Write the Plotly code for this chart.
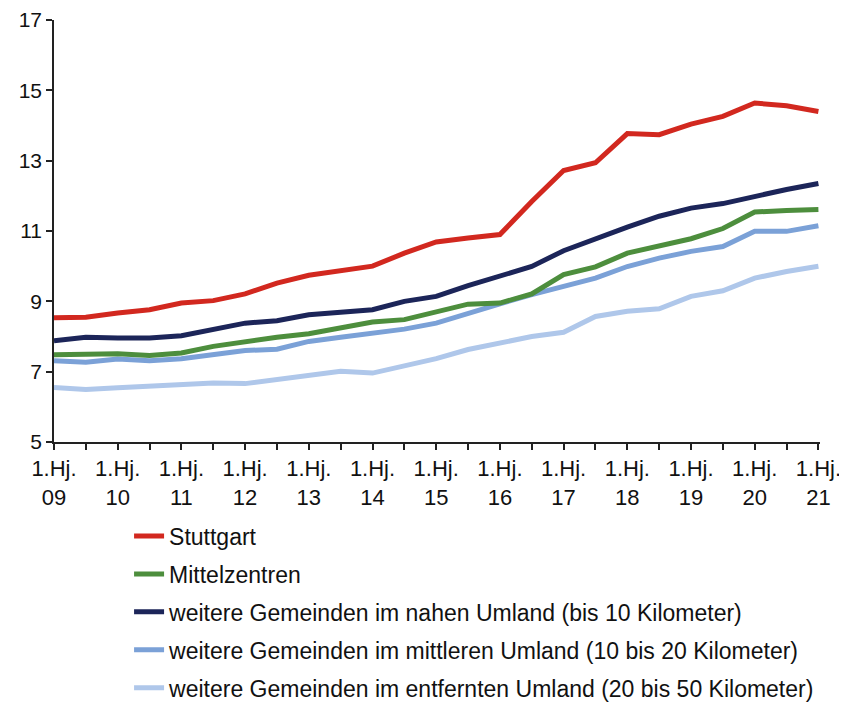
import plotly.graph_objects as go

periods = ["1.Hj. 09", "2.Hj. 09", "1.Hj. 10", "2.Hj. 10", "1.Hj. 11", "2.Hj. 11",
           "1.Hj. 12", "2.Hj. 12", "1.Hj. 13", "2.Hj. 13", "1.Hj. 14", "2.Hj. 14",
           "1.Hj. 15", "2.Hj. 15", "1.Hj. 16", "2.Hj. 16", "1.Hj. 17", "2.Hj. 17",
           "1.Hj. 18", "2.Hj. 18", "1.Hj. 19", "2.Hj. 19", "1.Hj. 20", "2.Hj. 20",
           "1.Hj. 21"]

stuttgart = [8.53, 8.55, 8.67, 8.76, 8.95, 9.02, 9.21, 9.52, 9.74, 9.87, 10.0, 10.37,
             10.69, 10.80, 10.90, 11.84, 12.72, 12.94, 13.77, 13.74, 14.04, 14.26,
             14.64, 14.56, 14.40]
mittelzentren = [7.48, 7.48, 7.51, 7.46, 7.53, 7.72, 7.86, 7.98, 8.08, 8.24, 8.41, 8.48,
                 8.70, 8.92, 8.95, 9.21, 9.76, 9.98, 10.37, 10.56, 10.78, 11.07,
                 11.54, 11.58, 11.61]
nahes_umland = [7.88, 7.98, 7.96, 7.96, 8.02, 8.19, 8.38, 8.45, 8.62, 8.69, 8.76, 9.00,
                9.14, 9.45, 9.71, 9.99, 10.44, 10.78, 11.11, 11.42, 11.65, 11.78,
                11.99, 12.18, 12.35]
mittleres_umland = [7.31, 7.27, 7.36, 7.31, 7.37, 7.48, 7.60, 7.64, 7.86, 7.98, 8.10, 8.21,
                    8.38, 8.67, 8.93, 9.19, 9.43, 9.66, 9.99, 10.23, 10.42, 10.56,
                    10.99, 10.99, 11.15]
entferntes_umland = [6.55, 6.49, 6.54, 6.58, 6.65, 6.68, 6.66, 6.77, 6.87, 7.01, 6.96, 7.15,
                     7.37, 7.63, 7.82, 8.00, 8.12, 8.57, 8.72, 8.79, 9.14, 9.30,
                     9.66, 9.85, 10.00]

tick_labels = ["1.Hj.<br>09", "1.Hj.<br>10", "1.Hj.<br>11", "1.Hj.<br>12", "1.Hj.<br>13",
               "1.Hj.<br>14", "1.Hj.<br>15", "1.Hj.<br>16", "1.Hj.<br>17", "1.Hj.<br>18",
               "1.Hj.<br>19", "1.Hj.<br>20", "1.Hj.<br>21"]

series = [
    ("Stuttgart", stuttgart, "#d2281f"),
    ("Mittelzentren", mittelzentren, "#4d8e3d"),
    ("weitere Gemeinden im nahen Umland (bis 10 Kilometer)", nahes_umland, "#1c2559"),
    ("weitere Gemeinden im mittleren Umland (10 bis 20 Kilometer)", mittleres_umland, "#7ba1d7"),
    ("weitere Gemeinden im entfernten Umland (20 bis 50 Kilometer)", entferntes_umland, "#afc7ea"),
]

xs = list(range(len(periods)))
FONT = "Liberation Sans, Arial, sans-serif"

fig = go.Figure()
for i, (name, vals, color) in enumerate(series):
    fig.add_trace(go.Scatter(
        x=xs, y=vals, mode="lines", name=name,
        line=dict(color=color, width=5),
        legendgroup=f"g{i}", legendrank=i + 1,
        customdata=periods,
        hovertemplate="%{customdata}: %{y:.2f}<extra>" + name + "</extra>",
    ))
# draw red last so it sits on top
fig.data = tuple(reversed(fig.data))

fig.update_layout(
    width=839, height=710,
    margin=dict(l=46, r=27, t=12, b=276, autoexpand=False),
    paper_bgcolor="white", plot_bgcolor="white",
    font=dict(family=FONT, size=22, color="#111111"),
    showlegend=True,
    legend=dict(
        orientation="v", x=0.098, y=-0.172, xanchor="left", yanchor="top",
        font=dict(family=FONT, size=23, color="#111111"),
        tracegroupgap=5, traceorder="grouped",
        bgcolor="rgba(0,0,0,0)",
    ),
)

fig.update_xaxes(
    range=[0, 24.05], showgrid=False, zeroline=False, automargin=False,
    showline=True, linecolor="#222222", linewidth=1.5,
    tickmode="array", tickvals=xs[::2], ticktext=tick_labels,
    ticks="outside", ticklen=6, tickwidth=1.5, tickcolor="#222222",
    tickfont=dict(family=FONT, size=22, color="#111111"),
    minor=dict(dtick=1, tick0=0, ticks="outside", ticklen=6, tickwidth=1.5, tickcolor="#222222"),
)
fig.update_yaxes(
    range=[5, 17], dtick=2, tick0=5, showgrid=False, zeroline=False, automargin=False,
    showline=True, linecolor="#222222", linewidth=1.5,
    ticks="outside", ticklen=6, tickwidth=1.5, tickcolor="#222222",
    tickfont=dict(family=FONT, size=21, color="#111111"),
)

fig.write_html("out.html")
